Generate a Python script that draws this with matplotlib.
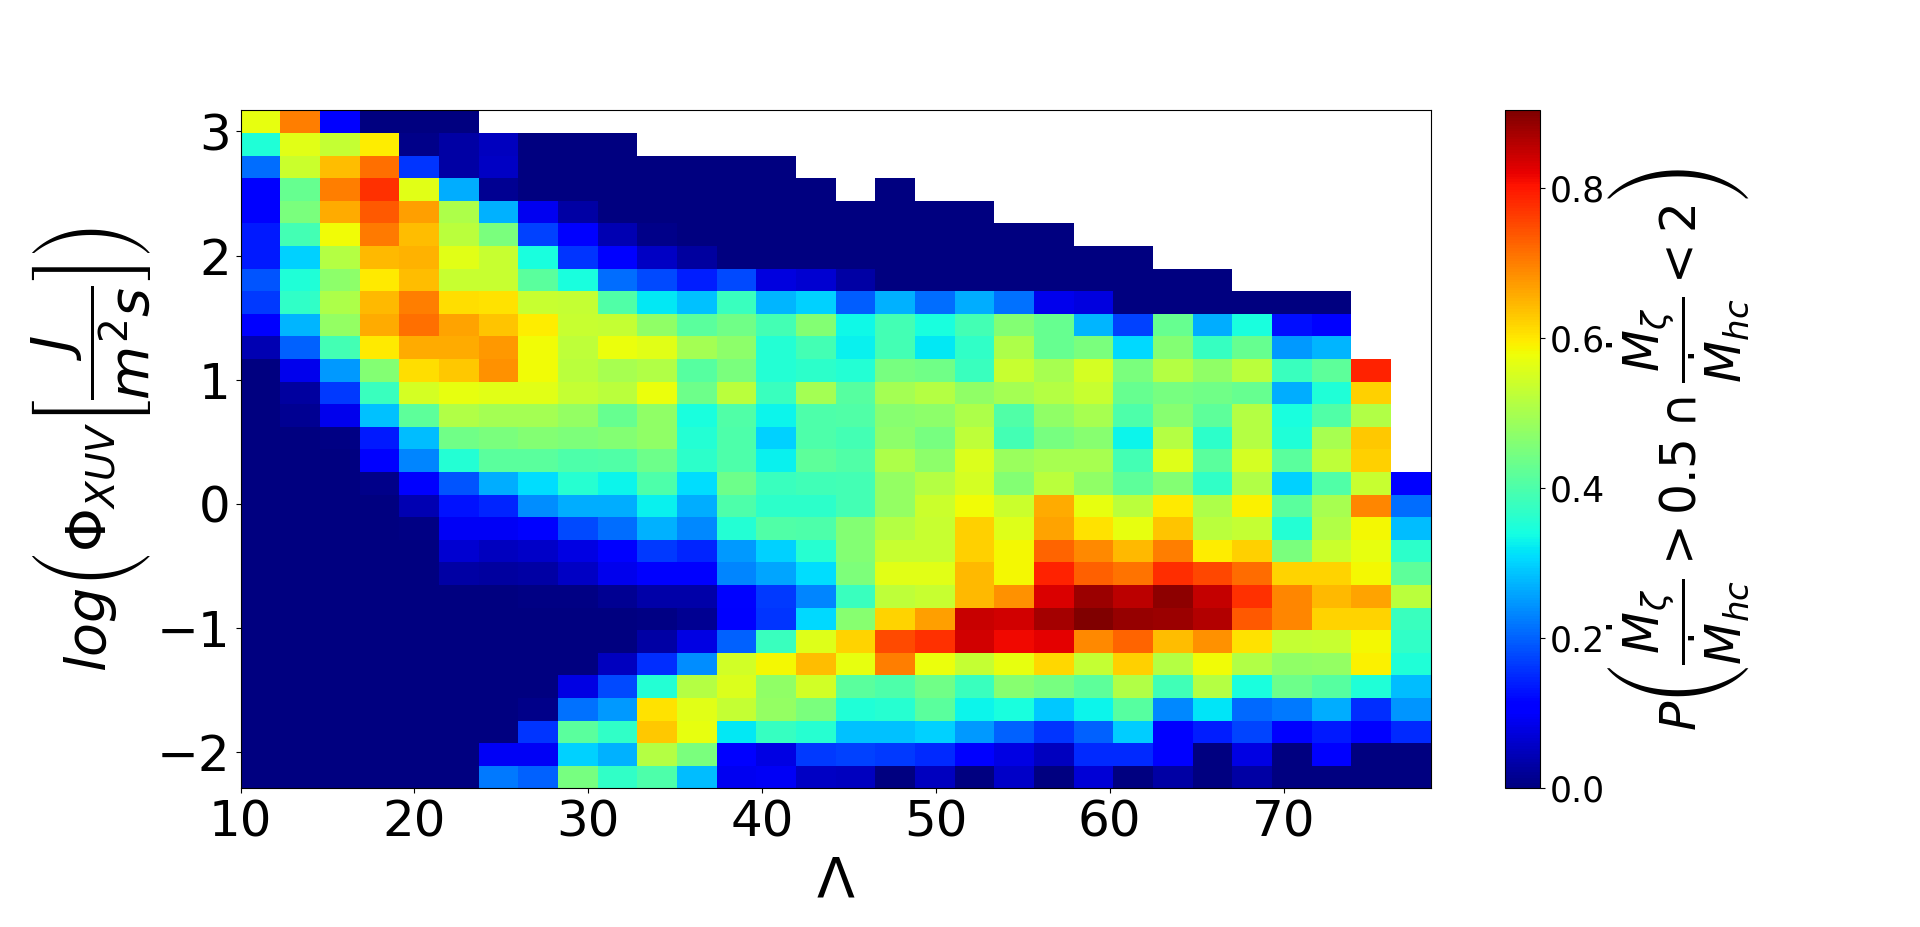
import numpy as np
import matplotlib
matplotlib.use("Agg")
from matplotlib import pyplot as plt

n = np.nan

# probability per bin, top row of the heatmap first
row_01 = [.57,.70,.10,0,0,0,n,n,n,n,n,n,n,n,n,n,n,n,n,n,n,n,n,n,n,n,n,n,n,n]
row_02 = [.35,.565,.53,.595,.01,.03,.05,0,0,0,n,n,n,n,n,n,n,n,n,n,n,n,n,n,n,n,n,n,n,n]
row_03 = [.21,.54,.64,.715,.16,.03,.055,0,0,0,0,0,0,0,n,n,n,n,n,n,n,n,n,n,n,n,n,n,n,n]
row_04 = [.10,.43,.70,.775,.565,.265,.015,0,0,0,0,0,0,0,0,n,0,n,n,n,n,n,n,n,n,n,n,n,n,n]
row_05 = [.10,.45,.66,.735,.67,.505,.27,.09,.03,0,0,0,0,0,0,0,0,0,0,n,n,n,n,n,n,n,n,n,n,n]
row_06 = [.135,.39,.58,.705,.64,.52,.45,.17,.10,.04,.01,0,0,0,0,0,0,0,0,0,0,n,n,n,n,n,n,n,n,n]
row_07 = [.135,.30,.515,.645,.65,.565,.535,.345,.16,.10,.055,.025,0,0,0,0,0,0,0,0,0,0,0,n,n,n,n,n,n,n]
row_08 = [.19,.35,.47,.60,.64,.535,.535,.415,.345,.21,.18,.14,.18,.075,.065,.03,0,0,0,0,0,0,0,0,0,n,n,n,n,n]
row_09 = [.165,.37,.505,.645,.70,.61,.605,.535,.53,.405,.32,.285,.38,.275,.30,.195,.27,.21,.265,.215,.085,.075,0,0,0,0,0,0,n,n]
row_10 = [.10,.275,.48,.66,.715,.665,.635,.595,.535,.53,.475,.415,.44,.39,.46,.335,.39,.345,.39,.46,.43,.275,.17,.43,.265,.345,.125,.105,n,n]
row_11 = [.04,.20,.39,.60,.66,.66,.675,.58,.525,.575,.565,.495,.47,.355,.39,.325,.39,.32,.37,.505,.43,.45,.305,.46,.375,.43,.25,.275,n,n]
row_12 = [0,.085,.25,.46,.61,.63,.685,.58,.52,.50,.51,.41,.45,.355,.365,.355,.445,.44,.38,.535,.50,.55,.45,.515,.475,.52,.38,.42,.79,n]
row_13 = [0,.025,.165,.38,.55,.57,.565,.565,.53,.52,.575,.435,.52,.38,.495,.41,.495,.515,.475,.495,.515,.535,.43,.445,.44,.43,.265,.35,.625,n]
row_14 = [0,.015,.085,.285,.42,.51,.495,.495,.48,.43,.475,.345,.405,.33,.40,.405,.465,.47,.505,.405,.475,.50,.40,.465,.42,.515,.345,.405,.51,n]
row_15 = [0,0,.005,.135,.28,.44,.45,.46,.455,.46,.475,.355,.40,.30,.40,.39,.47,.445,.525,.39,.445,.465,.33,.515,.365,.515,.35,.50,.63,n]
row_16 = [0,0,0,.10,.23,.355,.415,.415,.40,.405,.435,.365,.40,.325,.42,.405,.505,.47,.555,.485,.50,.50,.39,.56,.415,.55,.415,.525,.625,n]
row_17 = [0,0,0,.01,.105,.19,.265,.31,.36,.33,.40,.31,.435,.38,.385,.39,.48,.515,.55,.46,.52,.475,.42,.46,.37,.51,.30,.405,.535,.105]
row_18 = [0,0,0,0,.04,.13,.145,.24,.265,.265,.325,.265,.40,.365,.365,.39,.48,.54,.58,.54,.66,.57,.52,.60,.505,.59,.415,.50,.695,.21]
row_19 = [0,0,0,0,.005,.095,.095,.115,.18,.21,.27,.235,.355,.405,.40,.46,.515,.535,.625,.56,.665,.605,.57,.635,.52,.53,.355,.51,.585,.28]
row_20 = [0,0,0,0,0,.065,.05,.06,.08,.10,.165,.145,.25,.30,.36,.46,.535,.535,.625,.585,.725,.69,.645,.70,.595,.625,.45,.54,.57,.365]
row_21 = [0,0,0,0,0,.03,.025,.03,.055,.085,.105,.105,.23,.26,.31,.455,.565,.565,.645,.585,.79,.73,.71,.78,.755,.72,.62,.62,.585,.42]
row_22 = [0,0,0,0,0,0,0,.005,.005,.015,.035,.035,.115,.165,.23,.38,.525,.535,.645,.685,.83,.88,.855,.89,.85,.775,.695,.645,.665,.52]
row_23 = [0,0,0,0,0,0,0,0,0,0,.005,.015,.10,.16,.305,.465,.62,.67,.845,.84,.875,.904,.885,.88,.865,.735,.695,.62,.62,.38]
row_24 = [0,0,0,0,0,0,0,0,0,0,.03,.08,.20,.38,.56,.62,.75,.775,.84,.815,.825,.69,.725,.64,.685,.605,.53,.535,.585,.37]
row_25 = [0,0,0,0,0,0,0,0,0,.05,.155,.24,.545,.585,.64,.57,.70,.575,.53,.57,.615,.53,.625,.515,.58,.51,.475,.48,.59,.35]
row_26 = [0,0,0,0,0,0,0,0,.08,.18,.355,.515,.555,.475,.545,.415,.40,.44,.38,.465,.445,.42,.51,.385,.515,.345,.435,.41,.35,.28]
row_27 = [0,0,0,0,0,0,0,.01,.215,.25,.605,.565,.53,.48,.45,.35,.36,.415,.33,.345,.29,.33,.41,.235,.315,.205,.22,.265,.155,.245]
row_28 = [0,0,0,0,0,0,0,.16,.415,.37,.63,.57,.32,.375,.36,.285,.285,.30,.25,.20,.16,.20,.295,.105,.14,.175,.10,.135,.105,.15]
row_29 = [0,0,0,0,0,0,.095,.095,.30,.27,.515,.45,.105,.08,.165,.17,.165,.15,.10,.08,.05,.15,.15,.105,0,.08,0,.105,0,0]
row_30 = [0,0,0,0,0,0,.22,.20,.445,.37,.40,.28,.09,.095,.055,.05,0,.05,0,.06,0,.07,0,.03,0,.03,0,0,0,0]

rows = [row_01, row_02, row_03, row_04, row_05, row_06, row_07, row_08, row_09, row_10,
        row_11, row_12, row_13, row_14, row_15, row_16, row_17, row_18, row_19, row_20,
        row_21, row_22, row_23, row_24, row_25, row_26, row_27, row_28, row_29, row_30]

x_min, x_max = 10, 78.45
y_min, y_max = -2.29, 3.17
x_ticks = [10, 20, 30, 40, 50, 60, 70]
y_ticks = [-2, -1, 0, 1, 2, 3]
cbar_ticks = [0.0, 0.2, 0.4, 0.6, 0.8]

W, H = 1920, 927
fig = plt.figure(figsize=(W / 100, H / 100), dpi=100)
ax = fig.add_axes([240.5 / W, 1 - 788.3 / H, 1190 / W, 678 / H])
cax = fig.add_axes([1505.3 / W, 1 - 788.3 / H, 34.4 / W, 678 / H])

grid = np.array(rows[::-1], dtype=float)
x_edges = np.linspace(x_min, x_max, grid.shape[1] + 1)
y_edges = np.linspace(y_min, y_max, grid.shape[0] + 1)
mesh = ax.pcolormesh(x_edges, y_edges, grid, cmap='jet', vmin=0, vmax=0.904)

ax.set_xlim(x_min, x_max)
ax.set_ylim(y_min, y_max)
ax.set_xticks(x_ticks)
ax.set_yticks(y_ticks)
ax.tick_params(labelsize=36)
ax.set_xlabel(r'$\Lambda$', fontsize=40, labelpad=6)
ax.set_ylabel(r'$log\left(\Phi_{XUV}\left[\dfrac{J}{m^2s}\right]\right)$', fontsize=40, labelpad=2)

cbar = fig.colorbar(mesh, cax=cax)
cbar.set_ticks(cbar_ticks)
cbar.ax.tick_params(labelsize=25)
cbar.set_label(r'$P\left(\dfrac{\dot{M}_\zeta}{\dot{M}_{hc}}>0.5\cap\dfrac{\dot{M}_\zeta}{\dot{M}_{hc}}<2\right)$', fontsize=35, labelpad=1)

fig.savefig('out.png', dpi=100)
